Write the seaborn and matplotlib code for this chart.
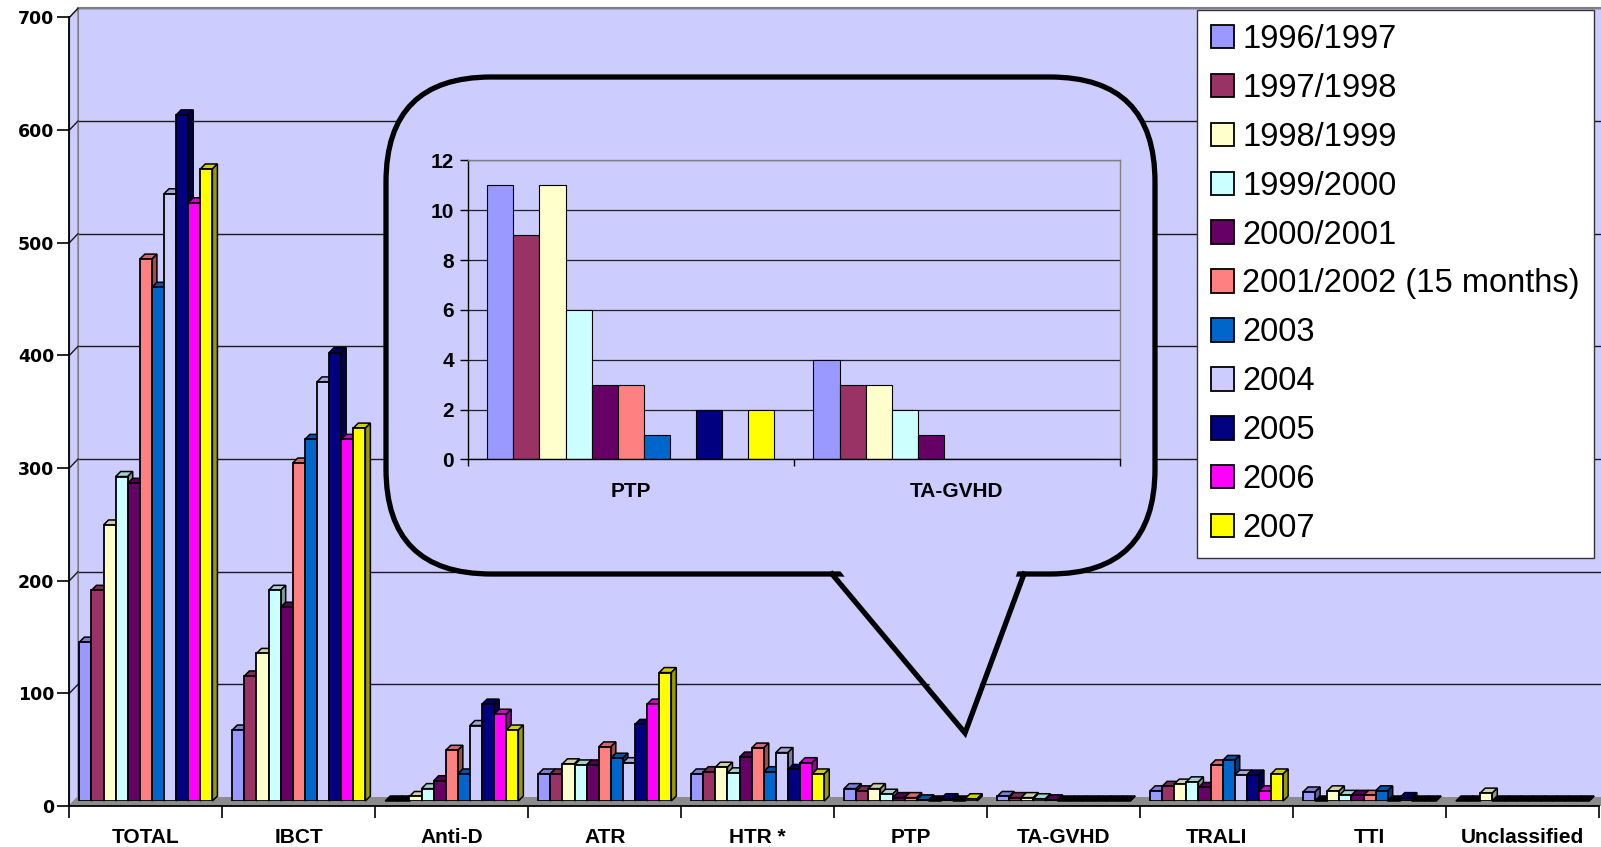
import numpy as np
import pandas as pd
import matplotlib
matplotlib.use("Agg")
import matplotlib.pyplot as plt
import seaborn as sns
from matplotlib.patches import Polygon, FancyBboxPatch, Patch
from matplotlib.lines import Line2D
from matplotlib.transforms import Affine2D, IdentityTransform
from matplotlib.colors import to_rgb

# ---- data -------------------------------------------------------------
periods = ["1996/1997", "1997/1998", "1998/1999", "1999/2000", "2000/2001",
           "2001/2002 (15 months)", "2003", "2004", "2005", "2006", "2007"]
period_colors = ["#9999FF", "#993366", "#FFFFCC", "#CCFFFF", "#660066",
                 "#FF8080", "#0066CC", "#CCCCFF", "#000080", "#FF00FF", "#FFFF00"]
categories = ["TOTAL", "IBCT", "Anti-D", "ATR", "HTR *", "PTP", "TA-GVHD",
              "TRALI", "TTI", "Unclassified"]

total = [141, 187, 245, 288, 282, 481, 456, 539, 609, 531, 561]
ibct = [63, 111, 131, 187, 172, 300, 321, 372, 398, 321, 331]
anti_d = [0, 0, 4, 11, 18, 45, 24, 67, 86, 77, 63]
atr = [24, 24, 33, 32, 32, 48, 38, 34, 68, 86, 114]
htr = [24, 26, 30, 25, 39, 47, 26, 43, 28, 34, 24]
ptp = [11, 9, 11, 6, 3, 3, 1, 0, 2, 0, 2]
ta_gvhd = [4, 3, 3, 2, 1, 0, 0, 0, 0, 0, 0]
trali = [9, 13, 15, 17, 12, 32, 36, 23, 23, 9, 24]
tti = [8, 0, 9, 5, 5, 5, 9, 0, 3, 0, 0]
unclassified = [0, 0, 7, 0, 0, 0, 0, 0, 0, 0, 0]

y_ticks = [0, 100, 200, 300, 400, 500, 600, 700]
inset_categories = ["PTP", "TA-GVHD"]
inset_ticks = [0, 2, 4, 6, 8, 10, 12]

by_category = dict(zip(categories, [total, ibct, anti_d, atr, htr, ptp, ta_gvhd,
                                    trali, tti, unclassified]))
rows = [(cat, per, val) for cat in categories
        for per, val in zip(periods, by_category[cat])]
df = pd.DataFrame(rows, columns=["category", "period", "reports"])
df_inset = df[df["category"].isin(inset_categories)]

# ---- figure & helpers -------------------------------------------------
plt.rcParams["font.family"] = ["Liberation Sans", "DejaVu Sans"]
NARROW = ["Liberation Sans Narrow", "Liberation Sans", "DejaVu Sans"]

W, H = 1601, 847
fig = plt.figure(figsize=(W / 100, H / 100), dpi=100)
fig.patch.set_facecolor("white")
PX = Affine2D().scale(1 / W, -1 / H).translate(0, 1) + fig.transFigure


def box(x0, y0, x1, y1):
    """Pixel rectangle (y measured downward) to figure fractions."""
    return [x0 / W, 1 - y1 / H, (x1 - x0) / W, (y1 - y0) / H]


K = 1.1266          # pixels per report
WALL = "#CCCCFF"
GRID = "#1a1a1a"
DEPTH = 5           # extrusion of the 3-D columns, pixels

# back wall with gridlines
ax_back = fig.add_axes(box(78, 797 - 700 * K, W, 797), zorder=0)
ax_back.set_facecolor(WALL)
ax_back.set_xlim(0, 1)
ax_back.set_ylim(0, 700)
ax_back.set_xticks([])
ax_back.set_yticks(y_ticks[1:])
ax_back.tick_params(left=False, bottom=False, labelleft=False, labelbottom=False)
ax_back.yaxis.grid(True, color=GRID, lw=1.0)
for s in ["right", "bottom"]:
    ax_back.spines[s].set_visible(False)
for s in ["top", "left"]:
    ax_back.spines[s].set_color("#808080")
    ax_back.spines[s].set_linewidth(1.5)

# side wall and floor
fig.add_artist(Polygon([(69.4, 806), (69.4, 806 - 700 * K), (78, 797 - 700 * K), (78, 797)],
                       closed=True, facecolor=WALL, edgecolor="#808080", lw=1,
                       transform=PX, zorder=0.5))
for v in y_ticks[1:]:
    fig.add_artist(Line2D([69.4, 78], [806 - v * K, 797 - v * K], color=GRID, lw=1,
                          transform=PX, zorder=0.6))
fig.add_artist(Polygon([(69.4, 806), (78, 797), (W, 797), (W, 806)], closed=True,
                       facecolor="#8c8c8c", edgecolor="none", transform=PX, zorder=0.7))

# ---- main columns -----------------------------------------------------
ax_bars = fig.add_axes(box(69.4, 801 - 700 * K, 1599, 801), zorder=1)
sns.barplot(data=df, x="category", y="reports", hue="period", order=categories,
            hue_order=periods, palette=period_colors, saturation=1, width=0.87,
            edgecolor="black", linewidth=1.3, errorbar=None, legend=False, ax=ax_bars)
ax_bars.set_xlim(-0.5, 9.5)
ax_bars.set_ylim(0, 700)
ax_bars.set_axis_off()


def shade(c, f):
    r, g, b = to_rgb(c)
    return (r * f, g * f, b * f)


for p in list(ax_bars.patches):
    x0, y0, w, h = p.get_x(), p.get_y(), p.get_width(), p.get_height()
    (tlx, tly), (trx, tr_y), (brx, bry) = ax_bars.transData.transform(
        [(x0, y0 + h), (x0 + w, y0 + h), (x0 + w, y0)])
    fc = p.get_facecolor()
    top_fc = "black" if h == 0 else shade(fc, 0.82)
    top = Polygon([(tlx, tly), (trx, tr_y), (trx + DEPTH, tr_y + DEPTH), (tlx + DEPTH, tly + DEPTH)],
                  closed=True, transform=IdentityTransform(), facecolor=top_fc,
                  edgecolor="black", lw=1.1, zorder=0.5, clip_on=False)
    side = Polygon([(trx, tr_y), (trx + DEPTH, tr_y + DEPTH), (brx + DEPTH, bry + DEPTH), (brx, bry)],
                   closed=True, transform=IdentityTransform(), facecolor=shade(fc, 0.6),
                   edgecolor="black", lw=1.1, zorder=0.5, clip_on=False)
    ax_bars.add_artist(top)
    ax_bars.add_artist(side)

# ---- axes frame, ticks and labels -------------------------------------
ax_frame = fig.add_axes(box(69.4, 806 - 700 * K, 1599, 806), zorder=1.5)
ax_frame.patch.set_visible(False)
ax_frame.set_xlim(-0.5, 9.5)
ax_frame.set_ylim(0, 700)
ax_frame.set_yticks(y_ticks)
ax_frame.set_yticklabels([str(v) for v in y_ticks], fontfamily="DejaVu Sans",
                         fontweight="bold", fontsize=12.5)
ax_frame.set_xticks(np.arange(-0.5, 10, 1))
ax_frame.set_xticklabels([])
ax_frame.set_xticks(np.arange(len(categories)), minor=True)
ax_frame.set_xticklabels(categories, minor=True, fontweight="bold", fontsize=15)
ax_frame.tick_params(axis="x", which="major", direction="out", length=8.5, width=1.2,
                     bottom=True, color="black")
ax_frame.tick_params(axis="x", which="minor", length=0, pad=16, bottom=True)
ax_frame.tick_params(axis="y", direction="out", length=9, width=1.2, pad=2, left=True)
for s in ["top", "right"]:
    ax_frame.spines[s].set_visible(False)
for s in ["left", "bottom"]:
    ax_frame.spines[s].set_color("black")
    ax_frame.spines[s].set_linewidth(1.3)

# ---- callout with the PTP / TA-GVHD close-up ---------------------------
fig.add_artist(FancyBboxPatch((386, 77), 769, 497, boxstyle="round,pad=0,rounding_size=105",
                              transform=PX, facecolor=WALL, edgecolor="black", lw=3.8,
                              zorder=2))
fig.add_artist(Polygon([(837, 567), (1019, 567), (965, 729)], closed=True, facecolor=WALL,
                       edgecolor="none", transform=PX, zorder=2.1))
fig.add_artist(Line2D([832, 965, 1024], [574, 733, 574], color="black", lw=3.8,
                      solid_joinstyle="miter", transform=PX, zorder=2.2))

ax_in = fig.add_axes(box(467.7, 160.3, 1120, 459.5), zorder=3)
ax_in.patch.set_visible(False)
sns.barplot(data=df_inset, x="category", y="reports", hue="period", order=inset_categories,
            hue_order=periods, palette=period_colors, saturation=1, width=0.88,
            edgecolor="black", linewidth=0.8, errorbar=None, legend=False, ax=ax_in)
ax_in.set_xlim(-0.5, 1.5)
ax_in.set_ylim(0, 12)
ax_in.set_xlabel("")
ax_in.set_ylabel("")
ax_in.set_axisbelow(True)
ax_in.yaxis.grid(True, color="#222222", lw=0.9)
ax_in.set_yticks(inset_ticks)
ax_in.set_yticklabels([str(v) for v in inset_ticks], fontweight="bold", fontsize=15,
                      fontfamily=NARROW)
ax_in.set_xticks([-0.5, 0.5, 1.5])
ax_in.set_xticklabels([])
ax_in.set_xticks([0, 1], minor=True)
ax_in.set_xticklabels(inset_categories, minor=True, fontweight="bold", fontsize=15)
ax_in.tick_params(axis="x", which="major", direction="out", length=5, width=1, bottom=True)
ax_in.tick_params(axis="x", which="minor", length=0, pad=16, bottom=True)
ax_in.tick_params(axis="y", direction="out", length=6, width=1, pad=4, left=True)
for s in ["top", "right"]:
    ax_in.spines[s].set_color("#808080")
    ax_in.spines[s].set_linewidth(1)
for s in ["left", "bottom"]:
    ax_in.spines[s].set_color("black")
    ax_in.spines[s].set_linewidth(1)

# ---- legend -----------------------------------------------------------
handles = [Patch(facecolor=c, edgecolor="black", lw=1.3) for c in period_colors]
leg = fig.legend(handles, periods, loc="upper left", bbox_to_anchor=(1197 / W, 1 - 10 / H),
                 bbox_transform=fig.transFigure, fontsize=23.5, frameon=True, fancybox=False,
                 framealpha=1, edgecolor="#333333", borderpad=0.42, labelspacing=0.55,
                 handlelength=0.72, handleheight=0.72, handletextpad=0.25, borderaxespad=0)
leg.set_zorder(4)
leg.get_frame().set_linewidth(1.0)

fig.savefig("out.png", dpi=100)
